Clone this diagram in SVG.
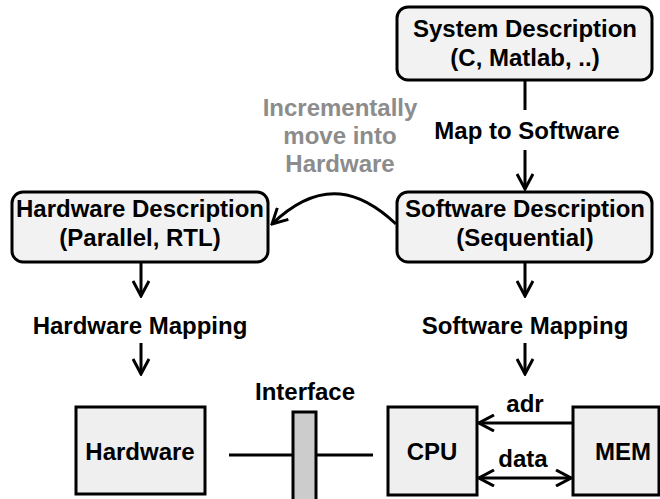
<svg xmlns="http://www.w3.org/2000/svg" width="660" height="499" viewBox="0 0 660 499">
  <style>
    .t { font-family: "Liberation Sans", Arial, sans-serif; font-weight: bold; font-size: 24px; fill: #000; text-anchor: middle; }
    .g { fill: #8c8c8c; }
    .box { fill: #f2f2f2; stroke: #000; stroke-width: 3; }
    .blk { fill: #efefef; stroke: #000; stroke-width: 3; }
    .ln { fill: none; stroke: #000; stroke-width: 3; }
  </style>
  <defs>
    <marker id="arr" viewBox="-16 -9 18 18" markerWidth="18" markerHeight="18" refX="0" refY="0" orient="auto" markerUnits="userSpaceOnUse">
      <path d="M-15,-8 L0,0 L-15,8" fill="none" stroke="#000" stroke-width="3"/>
    </marker>
    <marker id="arrs" viewBox="-16 -9 18 18" markerWidth="18" markerHeight="18" refX="0" refY="0" orient="auto-start-reverse" markerUnits="userSpaceOnUse">
      <path d="M-15,-8 L0,0 L-15,8" fill="none" stroke="#000" stroke-width="3"/>
    </marker>
  </defs>

  <g id="connectors">
    <line class="ln" x1="525" y1="80" x2="525" y2="110"/>
    <line class="ln" x1="525" y1="150" x2="525" y2="189" marker-end="url(#arr)"/>
    <path class="ln" d="M396,224 C362,192 322,176 272,224" marker-end="url(#arr)"/>
    <line class="ln" x1="141" y1="262" x2="141" y2="296" marker-end="url(#arr)"/>
    <line class="ln" x1="141" y1="343" x2="141" y2="374" marker-end="url(#arr)"/>
    <line class="ln" x1="525" y1="262" x2="525" y2="296" marker-end="url(#arr)"/>
    <line class="ln" x1="525" y1="343" x2="525" y2="374" marker-end="url(#arr)"/>
    <line class="ln" x1="229" y1="455" x2="293" y2="455"/>
    <line class="ln" x1="316" y1="455" x2="373" y2="455"/>
    <line class="ln" x1="573" y1="423" x2="479" y2="423" marker-end="url(#arr)"/>
    <line class="ln" x1="479" y1="478" x2="571" y2="478" marker-start="url(#arrs)" marker-end="url(#arrs)"/>
  </g>

  <text class="t" x="527" y="139">Map to Software</text>
  <g class="t g">
    <text class="t g" x="340" y="116">Incrementally</text>
    <text class="t g" x="340" y="144">move into</text>
    <text class="t g" x="340" y="172">Hardware</text>
  </g>
  <text class="t" x="140" y="334">Hardware Mapping</text>
  <text class="t" x="525" y="334">Software Mapping</text>
  <text class="t" x="525" y="412">adr</text>
  <text class="t" x="523" y="467">data</text>

  <g id="system-description">
    <rect class="box" x="397" y="7" width="255" height="73" rx="11"/>
    <text class="t" x="525" y="37">System Description</text>
    <text class="t" x="525" y="66">(C, Matlab, ..)</text>
  </g>

  <g id="hardware-description">
    <rect class="box" x="12" y="192" width="256" height="70" rx="11"/>
    <text class="t" x="140" y="217">Hardware Description</text>
    <text class="t" x="140" y="246">(Parallel, RTL)</text>
  </g>

  <g id="software-description">
    <rect class="box" x="397" y="192" width="255" height="70" rx="11"/>
    <text class="t" x="525" y="217">Software Description</text>
    <text class="t" x="525" y="246">(Sequential)</text>
  </g>

  <g id="hardware">
    <rect class="blk" x="76" y="407" width="129" height="87"/>
    <text class="t" x="140" y="460">Hardware</text>
  </g>

  <g id="interface">
    <text class="t" x="305" y="400">Interface</text>
    <rect x="293" y="412" width="23" height="90" fill="#cccccc" stroke="#000" stroke-width="3"/>
  </g>

  <g id="cpu">
    <rect class="blk" x="388" y="407" width="89" height="88"/>
    <text class="t" x="432" y="460">CPU</text>
  </g>

  <g id="mem">
    <rect class="blk" x="573" y="407" width="86" height="88"/>
    <text class="t" x="623" y="460">MEM</text>
  </g>
</svg>
